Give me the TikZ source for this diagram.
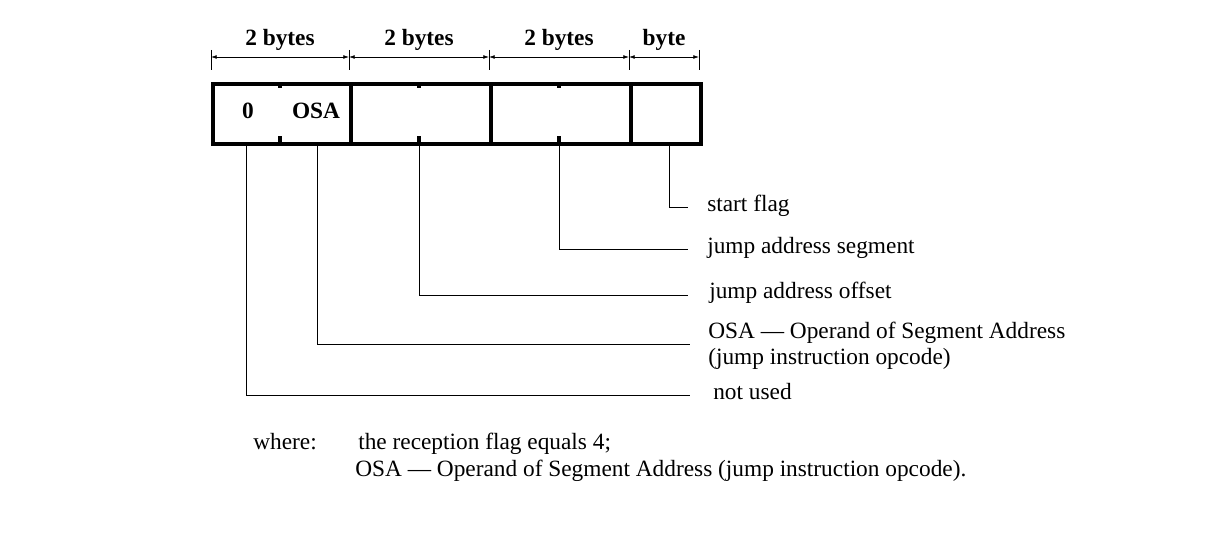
\documentclass[tikz,border=0pt]{standalone}
\usepackage{fontspec}
\setmainfont{Liberation Serif}
\usetikzlibrary{arrows.meta}
\tikzset{>={Latex[length=1.5mm,width=1mm]}}
\tikzset{field/.style={draw,line width=3pt,minimum height=45pt,inner sep=0pt,anchor=north west},
  lbl/.style={anchor=base west,font=\fontsize{17.5}{20}\selectfont,inner sep=0pt},
  head/.style={font=\bfseries\fontsize{17.5}{20}\selectfont,inner sep=0pt},
  lead/.style={line width=0.5pt}}
\begin{document}
\begin{tikzpicture}[x=0.75pt,y=-0.75pt]
\useasboundingbox (0,0) rectangle (1212,535);
    %fields
    \node[field,minimum width=103.5pt] (f1) at (211,82) {};
    \node[field,minimum width=105pt] (f2) at (349,82) {};
    \node[field,minimum width=105pt] (f3) at (489,82) {};
    \node[field,minimum width=52.5pt] (f4) at (629,82) {};
    \node[head] (zero) at (248,111) {0};
    \node[head] (osa) at (316,111) {OSA};
    %ticks
    \foreach \x in {280,419,559}{
      \draw[line width=3pt] (\x,82) -- (\x,88);
      \draw[line width=3pt] (\x,136) -- (\x,142);
    }
    %dimensions
    \foreach \a/\b/\t in {211/349/2 bytes,349/489/2 bytes,489/629/2 bytes,629/699/byte}{
      \draw[lead] (\a,50) -- (\a,70);
      \draw[lead,<->] (\a,57) -- (\b,57);
      \node[head] at ({(\a+\b)/2},40) {\t};
    }
    \draw[lead] (699,50) -- (699,70);
    %labels
    \node[lbl] (sf) at (707,211) {start flag};
    \node[lbl] (js) at (707,253) {jump address segment};
    \node[lbl] (jo) at (709,298) {jump address offset};
    \node[lbl] (op) at (708,338) {OSA — Operand of Segment Address};
    \node[lbl] (op2) at (708,364) {(jump instruction opcode)};
    \node[lbl] (nu) at (713,399) {not used};
    %leaders
    \draw[lead] (669,142) |- (688,207);
    \draw[lead] (559,142) |- (688,249);
    \draw[lead] (419,142) |- (688,295);
    \draw[lead] (317,142) |- (690,344);
    \draw[lead] (246,142) |- (690,395);
    %note
    \node[lbl] (wh) at (253,449) {where:};
    \node[lbl] (n1) at (358,449) {the reception flag equals 4;};
    \node[lbl] (n2) at (355,476) {OSA — Operand of Segment Address (jump instruction opcode).};
\end{tikzpicture}
\end{document}
